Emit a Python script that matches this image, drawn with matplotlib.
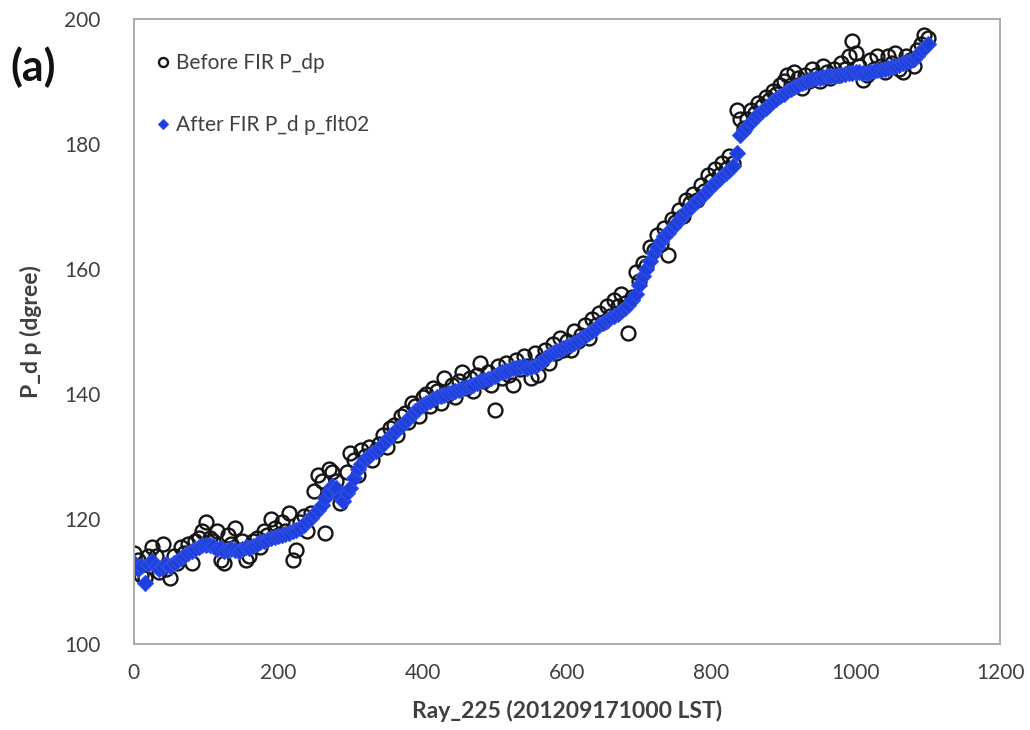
import numpy as np
import matplotlib.pyplot as plt

plt.rcParams['font.family'] = ['Lato', 'DejaVu Sans']

# ray index, step 5 (0 .. 1100)
rays = np.arange(0, 1101, 5)

pdp_before = [
    114.5, 113.5, 111.0, 110.5, 114.0, 115.5, 114.0, 111.5, 116.0, 112.0,
    110.5, 114.0, 113.0, 115.5, 114.5, 116.0, 113.0, 116.5, 117.0, 118.0,
    119.5, 117.0, 116.5, 118.0, 113.5, 113.0, 117.5, 116.0, 118.5, 115.0,
    116.5, 113.5, 114.0, 116.5, 117.0, 115.5, 118.0, 117.5, 120.0, 118.5,
    117.5, 119.5, 118.0, 121.0, 113.5, 115.0, 119.5, 120.5, 118.0, 121.0,
    124.5, 127.0, 126.0, 117.8, 128.0, 127.5, 126.0, 122.5, 124.0, 127.5,
    130.5, 129.5, 127.0, 131.0, 130.0, 131.5, 129.5, 131.0, 132.0, 133.5,
    131.5, 134.5, 135.0, 133.5, 136.5, 137.0, 135.5, 138.5, 138.0, 136.5,
    139.5, 140.0, 138.0, 141.0, 140.5, 138.5, 142.5, 140.0, 141.5, 139.5,
    142.0, 143.5, 141.0, 142.5, 140.5, 143.0, 145.0, 142.0, 143.5, 141.5,
    137.5, 144.5, 142.5, 145.0, 143.0, 141.5, 145.5, 144.0, 146.0, 144.5,
    142.5, 146.5, 143.0, 145.5, 147.0, 145.0, 148.0, 146.5, 149.0, 147.0,
    148.5, 147.0, 150.0, 148.5, 149.5, 151.0, 149.0, 152.0, 151.0, 153.0,
    151.5, 154.0, 152.5, 155.0, 154.0, 156.0, 154.5, 149.8, 155.5, 159.5,
    158.0, 161.0, 160.5, 163.5, 163.0, 165.5, 164.0, 166.5, 162.3, 168.0,
    167.5, 169.5, 168.5, 171.0, 170.5, 172.0, 171.0, 173.5, 172.5, 175.0,
    174.0, 176.0, 175.0, 177.0, 176.0, 178.0, 177.0, 185.5, 184.0, 182.5,
    184.0, 185.5, 185.0, 186.5, 186.0, 187.5, 187.0, 188.5, 188.0, 189.5,
    190.0, 191.0, 189.5, 191.5, 190.5, 189.0, 191.0, 190.0, 192.0, 191.0,
    190.0, 192.5, 191.5, 190.5, 192.0, 191.0, 193.0, 192.0, 194.0, 196.5,
    194.5, 192.5, 190.2, 191.0, 193.5, 192.0, 194.0, 192.5, 191.5, 194.0,
    193.0, 194.5, 192.0, 191.5, 194.0, 193.5, 192.5, 195.0, 196.0, 197.5,
    197.0,
]

pdp_after = [
    113.0, 112.0, 112.5, 109.8, 112.8, 113.2, 112.5, 112.0, 112.3, 112.8,
    112.5, 113.0, 113.3, 113.8, 114.0, 114.5, 114.8, 115.2, 115.5, 115.9,
    115.8, 115.9, 115.6, 115.2, 115.3, 114.8, 115.0, 115.2, 115.0, 114.9,
    115.2, 115.5, 115.4, 115.6, 116.0, 116.3, 116.5, 116.7, 116.9, 117.1,
    117.3, 117.5, 117.6, 117.8, 118.0, 118.3, 118.6, 119.0, 119.6, 120.2,
    120.8, 121.5, 122.3, 123.4, 124.5, 125.2, 125.0, 123.5, 122.8, 124.2,
    125.0, 126.5, 128.0, 128.8, 129.6, 130.1, 130.5, 130.9, 131.3, 132.0,
    132.6, 133.2, 133.8, 134.4, 134.9, 135.5, 136.0, 136.6, 137.2, 137.7,
    138.2, 138.6, 138.9, 139.2, 139.5, 139.7, 139.9, 140.1, 140.3, 140.5,
    140.7, 140.9, 141.1, 141.3, 141.5, 141.8, 142.0, 142.2, 142.4, 142.6,
    142.9, 143.2, 143.5, 143.7, 143.9, 144.1, 144.2, 144.3, 144.4, 144.2,
    144.3, 144.5, 144.8, 145.3, 145.8, 146.2, 146.6, 146.9, 147.1, 147.4,
    147.6, 147.9, 148.2, 148.5, 148.9, 149.3, 149.7, 150.1, 150.6, 151.0,
    151.4, 151.8, 152.1, 152.5, 152.8, 153.3, 153.8, 154.2, 155.0, 156.0,
    157.5, 158.8, 160.0, 161.3, 162.5, 163.5, 164.5, 165.2, 165.8, 166.5,
    167.2, 167.9, 168.6, 169.2, 169.8, 170.4, 170.9, 171.5, 172.0, 172.6,
    173.2, 173.8, 174.4, 174.9, 175.3, 175.9, 176.5, 178.5, 181.5, 182.2,
    182.8, 183.5, 184.2, 184.8, 185.3, 185.8, 186.3, 186.8, 187.2, 187.6,
    188.0, 188.4, 188.8, 189.1, 189.4, 189.7, 189.9, 190.2, 190.4, 190.5,
    190.6, 190.7, 190.8, 190.9, 190.9, 191.0, 191.1, 191.2, 191.3, 191.4,
    191.5, 191.5, 191.4, 191.4, 191.5, 191.6, 191.8, 191.9, 192.0, 192.1,
    192.3, 192.5, 192.7, 192.9, 193.1, 193.3, 193.6, 194.1, 194.8, 195.4,
    196.0,
]

fig = plt.figure(figsize=(10.3, 7.3), dpi=100)
ax = fig.add_axes([0.130, 0.118, 0.841, 0.856])

ax.plot(rays, pdp_before, linestyle='none', marker='o', markersize=10,
        markerfacecolor='none', markeredgecolor='#151515', markeredgewidth=1.7,
        label='Before FIR P_dp')
ax.plot(rays, pdp_after, linestyle='none', marker='D', markersize=8,
        markerfacecolor='#1f3fdc', markeredgecolor='#2f50e6', markeredgewidth=0.8,
        label='After FIR P_d p_flt02')

ax.set_xlim(0, 1200)
ax.set_ylim(100, 200)
ax.set_xticks(range(0, 1201, 200))
ax.set_yticks(range(100, 201, 20))
ax.tick_params(length=0, labelsize=15, labelcolor='#404040')
ax.tick_params(axis='y', pad=24)
ax.tick_params(axis='x', pad=14)
for sp in ax.spines.values():
    sp.set_color('#a6a6a6')
    sp.set_linewidth(1.3)

ax.set_xlabel('Ray_225 (201209171000 LST)', fontsize=16.5, fontweight='bold',
              color='#404040', labelpad=12)
ax.set_ylabel('P_d p (dgree)', fontsize=16.5, fontweight='bold',
              color='#404040', labelpad=16)

leg = ax.legend(loc='upper left', bbox_to_anchor=(0.0, 0.975), frameon=False,
                fontsize=15, labelspacing=2.0, handletextpad=0.1,
                handlelength=1.0, markerscale=0.65)
for t in leg.get_texts():
    t.set_color('#404040')

fig.text(0.010, 0.908, '(a)', fontsize=31, fontweight='bold', color='#111111',
         va='center')

fig.savefig('out.png', dpi=100)
